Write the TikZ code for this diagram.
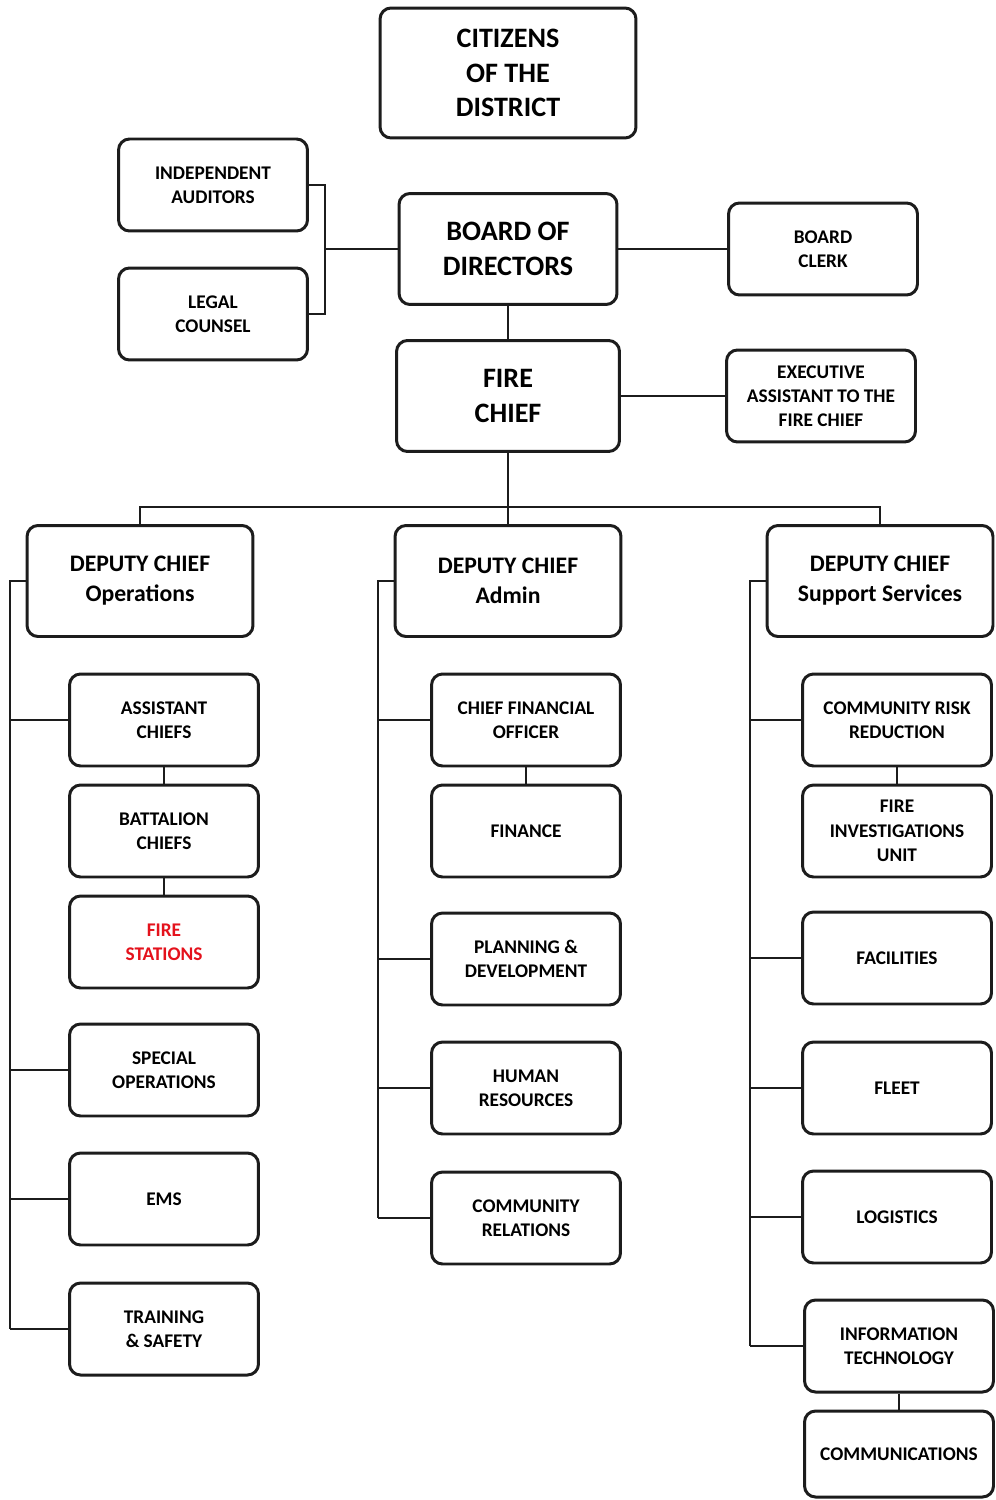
\documentclass[tikz,border=0pt]{standalone}
\usepackage{fontspec}
\setmainfont{Carlito}
\definecolor{stationred}{RGB}{228,18,28}
\definecolor{boxline}{RGB}{28,28,28}

\begin{document}
\begin{tikzpicture}[x=0.02cm, y=-0.02cm, anchor=center,
	unitbox/.style={draw=boxline, line width=1.7pt, rounded corners=0.22cm, fill=white, align=center, inner sep=0pt, font=\bfseries\fontsize{11}{13.8}\selectfont, minimum width=3.78cm, minimum height=1.84cm},
	headbox/.style={unitbox, font=\bfseries\fontsize{16}{19.5}\selectfont, minimum width=4.4cm, minimum height=2.22cm},
	deputybox/.style={unitbox, font=\bfseries\fontsize{13.5}{17}\selectfont, minimum width=4.52cm, minimum height=2.22cm},
	link/.style={draw=boxline, line width=1.1pt}]

		\useasboundingbox (0,0) rectangle (995,1500);

		\node[headbox, minimum width=5.12cm, minimum height=2.6cm] (citizens) at (508,73) {CITIZENS\\OF THE\\DISTRICT};
		\node[unitbox] (auditors) at (213,185) {INDEPENDENT\\AUDITORS};
		\node[unitbox] (counsel) at (213,314) {LEGAL\\COUNSEL};
		\node[headbox, minimum width=4.36cm] (board) at (508,249) {BOARD OF\\DIRECTORS};
		\node[unitbox] (clerk) at (823,249) {BOARD\\CLERK};
		\node[headbox, minimum width=4.46cm] (chief) at (508,396) {FIRE\\CHIEF};
		\node[unitbox] (exec) at (821,396) {EXECUTIVE\\ASSISTANT TO THE\\FIRE CHIEF};

		\node[deputybox] (opsdc) at (140,581) {DEPUTY CHIEF\\Operations};
		\node[deputybox] (admdc) at (508,581) {DEPUTY CHIEF\\Admin};
		\node[deputybox] (supdc) at (880,581) {DEPUTY CHIEF\\Support Services};

		\node[unitbox] (asst) at (164,720) {ASSISTANT\\CHIEFS};
		\node[unitbox] (batt) at (164,831) {BATTALION\\CHIEFS};
		\node[unitbox, text=stationred] (stations) at (164,942) {FIRE\\STATIONS};
		\node[unitbox] (spec) at (164,1070) {SPECIAL\\OPERATIONS};
		\node[unitbox] (ems) at (164,1199) {EMS};
		\node[unitbox] (train) at (164,1329) {TRAINING\\\& SAFETY};

		\node[unitbox] (cfo) at (526,720) {CHIEF FINANCIAL\\OFFICER};
		\node[unitbox] (finance) at (526,831) {FINANCE};
		\node[unitbox] (planning) at (526,959) {PLANNING \&\\DEVELOPMENT};
		\node[unitbox] (hr) at (526,1088) {HUMAN\\RESOURCES};
		\node[unitbox] (relations) at (526,1218) {COMMUNITY\\RELATIONS};

		\node[unitbox] (risk) at (897,720) {COMMUNITY RISK\\REDUCTION};
		\node[unitbox] (invest) at (897,831) {FIRE\\INVESTIGATIONS\\UNIT};
		\node[unitbox] (facilities) at (897,958) {FACILITIES};
		\node[unitbox] (fleet) at (897,1088) {FLEET};
		\node[unitbox] (logistics) at (897,1217) {LOGISTICS};
		\node[unitbox] (infotech) at (899,1346) {INFORMATION\\TECHNOLOGY};
		\node[unitbox, minimum height=1.72cm] (comms) at (899,1454) {COMMUNICATIONS};

		\coordinate (brk) at (325,249);
		\draw[link] (auditors.east) -| (brk) |- (counsel.east);
		\draw[link] (brk) -- (board.west);
		\draw[link] (board.east) -- (clerk.west);
		\draw[link] (board.south) -- (chief.north);
		\draw[link] (chief.east) -- (exec.west);

		\coordinate (split) at (508,507);
		\draw[link] (chief.south) -- (split) -- (admdc.north);
		\draw[link] (opsdc.north) |- (split) -| (supdc.north);

		\coordinate (opsbus) at (10,581);
		\coordinate (admbus) at (378,581);
		\coordinate (supbus) at (750,581);

		\draw[link] (opsdc.west) -- (opsbus) -- (opsbus |- train.west);
		\foreach \n in {asst,spec,ems,train}
			\draw[link] (opsbus |- \n.west) -- (\n.west);
		\draw[link] (asst) -- (batt) -- (stations);

		\draw[link] (admdc.west) -- (admbus) -- (admbus |- relations.west);
		\foreach \n in {cfo,planning,hr,relations}
			\draw[link] (admbus |- \n.west) -- (\n.west);
		\draw[link] (cfo) -- (finance);

		\draw[link] (supdc.west) -- (supbus) -- (supbus |- infotech.west);
		\foreach \n in {risk,facilities,fleet,logistics,infotech}
			\draw[link] (supbus |- \n.west) -- (\n.west);
		\draw[link] (risk) -- (invest);
		\draw[link] (infotech) -- (comms);

\end{tikzpicture}
\end{document}
